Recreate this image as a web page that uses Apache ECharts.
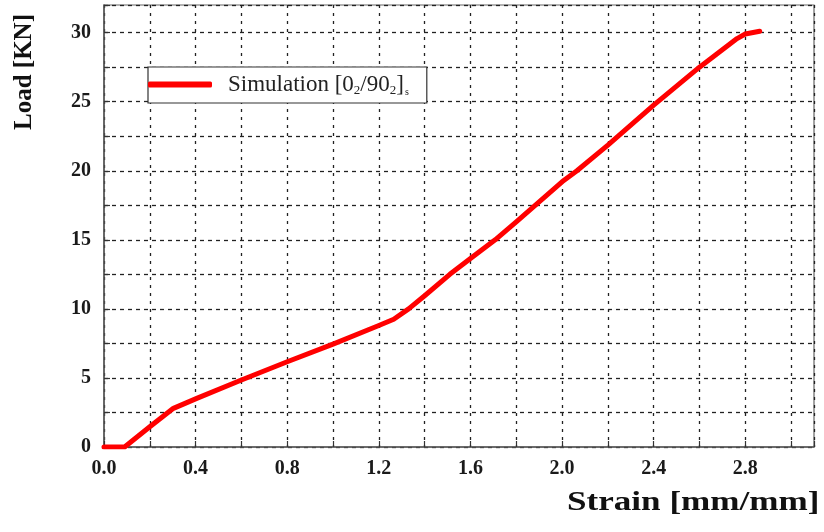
<!DOCTYPE html>
<html>
<head>
<meta charset="utf-8">
<style>
  html, body { margin: 0; padding: 0; background: #fff; }
  #chart { width: 824px; height: 532px; }
</style>
<script src="https://cdn.jsdelivr.net/npm/echarts@6/dist/echarts.min.js"></script>
</head>
<body>
<div id="chart"></div>
<script>
// Load–strain response of the [0₂/90₂]s laminate (simulation)
const strain = [0, 0.09, 0.2, 0.303, 0.405, 0.6, 0.8, 1.0, 1.2, 1.265, 1.33, 1.4, 1.51, 1.6, 1.708, 1.8, 2.0, 2.065, 2.2, 2.4, 2.6, 2.764, 2.8, 2.863];
const load   = [0, 0, 1.47, 2.8, 3.52, 4.85, 6.17, 7.45, 8.8, 9.25, 10.0, 10.95, 12.5, 13.65, 15.0, 16.3, 19.2, 20.0, 21.85, 24.75, 27.5, 29.57, 29.9, 30.1];

const seriesName = 'Simulation [02/902]s';
const xTitle = 'Strain [mm/mm]';
const yTitle = 'Load [KN]';

const serif = '"Liberation Serif", "DejaVu Serif", serif';

const chart = echarts.init(document.getElementById('chart'), null, { renderer: 'canvas' });

chart.setOption({
  backgroundColor: '#ffffff',
  animation: false,
  grid: {
    left: 104, top: 5, right: 10, bottom: 85,
    show: true, borderColor: '#666', borderWidth: 1.2
  },
  legend: {
    left: 148, top: 67,
    orient: 'horizontal',
    padding: [6, 18, 6, 0],
    borderColor: '#333', borderWidth: 1.2,
    backgroundColor: '#fff',
    itemWidth: 64, itemHeight: 6, itemGap: 0,
    icon: 'roundRect',
    data: [seriesName],
    formatter: function () {
      return '{t|Simulation [0}{sub|2}{t|/90}{sub|2}{t|]}{s|s}';
    },
    textStyle: {
      fontFamily: serif, color: '#222', padding: [0, 0, 0, 11],
      rich: {
        t: { fontFamily: serif, fontSize: 23, color: '#222' },
        sub: { fontFamily: serif, fontSize: 13, color: '#222', verticalAlign: 'bottom', padding: [12, 0, 0, 0] },
        s: { fontFamily: serif, fontSize: 10, color: '#222', verticalAlign: 'bottom', padding: [15, 0, 0, 1] }
      }
    }
  },
  xAxis: {
    type: 'value',
    min: 0, max: 3.1, interval: 0.2,
    axisLine: { show: true, lineStyle: { color: '#555', width: 1.5 } },
    axisTick: { show: true, inside: true, length: 6, lineStyle: { color: '#333', width: 1.2 } },
    axisLabel: {
      margin: 12,
      fontFamily: serif, fontWeight: 'bold', fontSize: 20, color: '#1a1a1a',
      formatter: function (v) {
        const k = Math.round(v * 10);
        if (k % 4 !== 0 || v > 3.0) return '';
        return v.toFixed(1);
      }
    },
    splitLine: { show: true, lineStyle: { color: '#222', width: 1.3, type: [3, 5] } }
  },
  yAxis: {
    type: 'value',
    min: 0, max: 32, interval: 2.5,
    axisLine: { show: true, lineStyle: { color: '#555', width: 1.5 } },
    axisTick: { show: true, inside: true, length: 6, lineStyle: { color: '#333', width: 1.2 } },
    axisLabel: {
      margin: 13,
      fontFamily: serif, fontWeight: 'bold', fontSize: 20, color: '#1a1a1a',
      formatter: function (v) {
        if (v % 5 !== 0 || v > 30) return '';
        return String(v);
      }
    },
    splitLine: { show: true, lineStyle: { color: '#222', width: 1.3, type: [4, 4] } }
  },
  graphic: [
    {
      type: 'text', x: 567, y: 490, scaleX: 1.3,
      style: {
        text: xTitle, fontFamily: serif, fontWeight: 'bold', fontSize: 27, fill: '#111',
        align: 'left', verticalAlign: 'top'
      }
    },
    {
      type: 'text', x: 25, y: 72, rotation: Math.PI / 2,
      style: {
        text: yTitle, fontFamily: serif, fontWeight: 'bold', fontSize: 25, fill: '#111',
        align: 'center', verticalAlign: 'middle'
      }
    }
  ],
  series: [{
    name: seriesName,
    type: 'line',
    data: strain.map((s, i) => [s, load[i]]),
    showSymbol: false,
    symbol: 'none',
    lineStyle: { color: '#ff0000', width: 5, cap: 'round', join: 'round' },
    itemStyle: { color: '#ff0000' }
  }]
});
</script>
</body>
</html>
